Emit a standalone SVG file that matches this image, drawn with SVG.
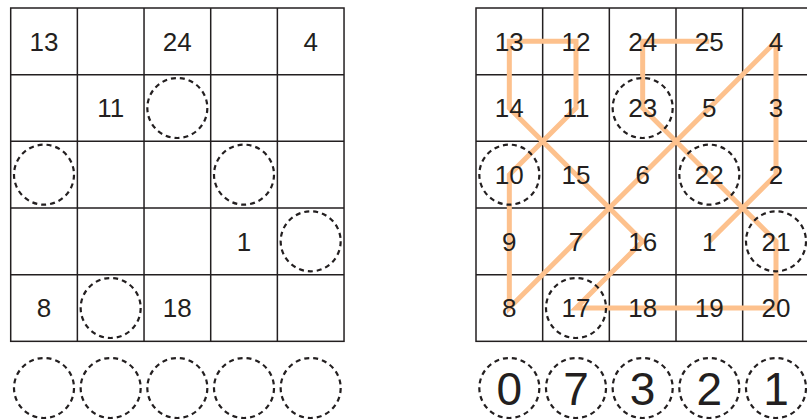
<svg xmlns="http://www.w3.org/2000/svg" width="807" height="419" viewBox="0 0 807 419">
<style>
.bg{fill:#ffffff}
.grid{fill:none;stroke:#231f20;stroke-width:1.5}
.num{font-family:"Liberation Sans",Arial,sans-serif;font-size:26px;fill:#231f20;text-anchor:middle}
.big{font-family:"Liberation Sans",Arial,sans-serif;font-size:46px;fill:#231f20;text-anchor:middle}
.dc{fill:none;stroke:#231f20;stroke-width:2.2;stroke-dasharray:5 3.98}
.path{fill:none;stroke:#fdc18d;stroke-width:5;stroke-linejoin:miter;stroke-linecap:butt}
</style>
<rect class="bg" x="0" y="0" width="807" height="419"/>
<defs>
<g id="grid5">
<rect class="grid" x="0" y="0" width="333.33" height="333.33"/>
<path class="grid" d="M66.67 0V333.33M133.33 0V333.33M200 0V333.33M266.67 0V333.33M0 66.67H333.33M0 133.33H333.33M0 200H333.33M0 266.67H333.33"/>
</g>
</defs>

<g id="left-puzzle">
<use href="#grid5" x="10.7" y="8"/>
<g id="L-13"><text class="num" x="44" y="50.6">13</text></g>
<g id="L-24"><text class="num" x="177.33" y="50.6">24</text></g>
<g id="L-4"><text class="num" x="310.67" y="50.6">4</text></g>
<g id="L-11"><text class="num" x="110.67" y="117.3">11</text></g>
<g id="L-1"><text class="num" x="244" y="250.6">1</text></g>
<g id="L-8"><text class="num" x="44" y="317.3">8</text></g>
<g id="L-18"><text class="num" x="177.33" y="317.3">18</text></g>
<g id="L-circles">
<circle class="dc" cx="177.33" cy="108" r="30"/>
<circle class="dc" cx="44" cy="174.67" r="30"/>
<circle class="dc" cx="244" cy="174.67" r="30"/>
<circle class="dc" cx="310.67" cy="241.33" r="30"/>
<circle class="dc" cx="110.67" cy="308" r="30"/>
</g>
<g id="L-answer">
<circle class="dc" cx="44" cy="388" r="30"/>
<circle class="dc" cx="110.67" cy="388" r="30"/>
<circle class="dc" cx="177.33" cy="388" r="30"/>
<circle class="dc" cx="244" cy="388" r="30"/>
<circle class="dc" cx="310.67" cy="388" r="30"/>
</g>
</g>

<g id="right-puzzle">
<use href="#grid5" x="476" y="8"/>
<g id="connectors">
<path class="path" d="M709.33 241.33L776 174.67L776 108L776 41.33L709.33 108L642.67 174.67L576 241.33L509.33 308L509.33 241.33L509.33 174.67L576 108L576 41.33L509.33 41.33L509.33 108L576 174.67L642.67 241.33L576 308L642.67 308L709.33 308L776 308L776 241.33L709.33 174.67L642.67 108L642.67 41.33L709.33 41.33"/>
</g>
<g id="R-circles">
<circle class="dc" cx="642.67" cy="108" r="30"/>
<circle class="dc" cx="509.33" cy="174.67" r="30"/>
<circle class="dc" cx="709.33" cy="174.67" r="30"/>
<circle class="dc" cx="776" cy="241.33" r="30"/>
<circle class="dc" cx="576" cy="308" r="30"/>
</g>
<g id="R-numbers">
<text class="num" x="509.33" y="50.6">13</text>
<text class="num" x="576" y="50.6">12</text>
<text class="num" x="642.67" y="50.6">24</text>
<text class="num" x="709.33" y="50.6">25</text>
<text class="num" x="776" y="50.6">4</text>
<text class="num" x="509.33" y="117.3">14</text>
<text class="num" x="576" y="117.3">11</text>
<text class="num" x="642.67" y="117.3">23</text>
<text class="num" x="709.33" y="117.3">5</text>
<text class="num" x="776" y="117.3">3</text>
<text class="num" x="509.33" y="183.9">10</text>
<text class="num" x="576" y="183.9">15</text>
<text class="num" x="642.67" y="183.9">6</text>
<text class="num" x="709.33" y="183.9">22</text>
<text class="num" x="776" y="183.9">2</text>
<text class="num" x="509.33" y="250.6">9</text>
<text class="num" x="576" y="250.6">7</text>
<text class="num" x="642.67" y="250.6">16</text>
<text class="num" x="709.33" y="250.6">1</text>
<text class="num" x="776" y="250.6">21</text>
<text class="num" x="509.33" y="317.3">8</text>
<text class="num" x="576" y="317.3">17</text>
<text class="num" x="642.67" y="317.3">18</text>
<text class="num" x="709.33" y="317.3">19</text>
<text class="num" x="776" y="317.3">20</text>
</g>
<g id="R-answer">
<circle class="dc" cx="509.33" cy="388" r="30"/>
<circle class="dc" cx="576" cy="388" r="30"/>
<circle class="dc" cx="642.67" cy="388" r="30"/>
<circle class="dc" cx="709.33" cy="388" r="30"/>
<circle class="dc" cx="776" cy="388" r="30"/>
<text class="big" x="509.33" y="404.5">0</text>
<text class="big" x="576" y="404.5">7</text>
<text class="big" x="642.67" y="404.5">3</text>
<text class="big" x="709.33" y="404.5">2</text>
<text class="big" x="776" y="404.5">1</text>
</g>
</g>
</svg>
